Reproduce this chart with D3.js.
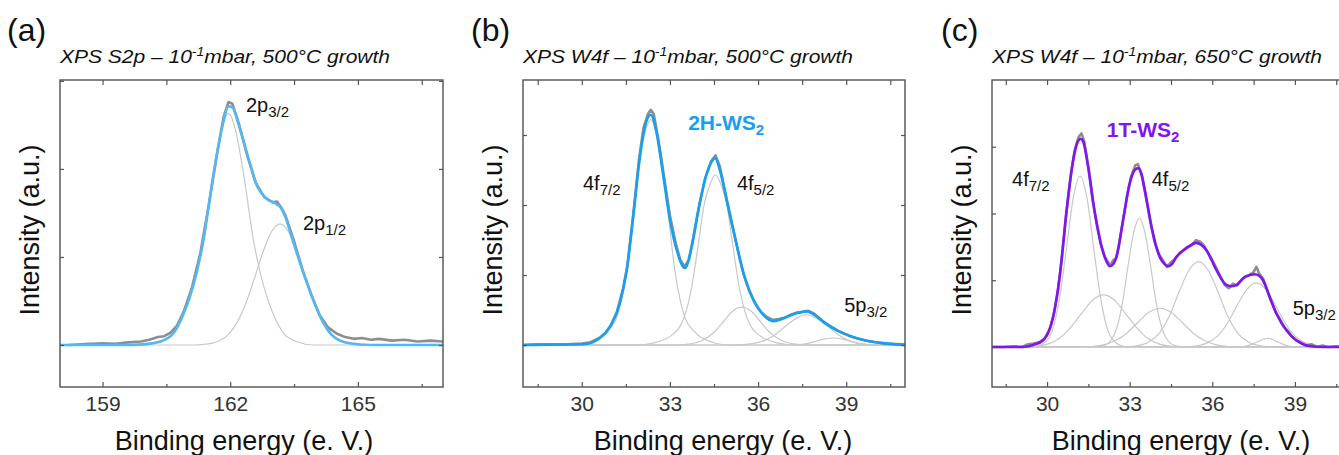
<!DOCTYPE html>
<html>
<head>
<meta charset="utf-8">
<script src="https://cdn.jsdelivr.net/npm/d3@7"></script>
<style>
  body { margin: 0; background: #fff; }
  svg { display: block; font-family: "Liberation Sans", Arial, sans-serif; }
</style>
</head>
<body>
<svg id="chart" width="1339" height="455"></svg>
<script>
// ---- data: [binding energy (eV), intensity (a.u.)] ----

// (a) S2p, 500°C
const s2pMeasured = [[158.2,0],[158.6,0.01],[159,0.02],[159.3,0.015],[159.6,0.03],[159.9,0.04],[160.1,0.06],[160.3,0.09],[160.45,0.1],[160.6,0.14],[160.75,0.22],[160.9,0.37],[161.1,0.65],[161.3,1.05],[161.5,1.6],[161.7,2.2],[161.85,2.6],[161.96,2.76],[162.05,2.74],[162.2,2.52],[162.4,2.15],[162.6,1.84],[162.8,1.68],[163,1.62],[163.1,1.63],[163.2,1.56],[163.3,1.47],[163.5,1.18],[163.7,0.85],[163.9,0.58],[164.1,0.34],[164.3,0.2],[164.5,0.13],[164.7,0.09],[164.9,0.07],[165.1,0.08],[165.3,0.06],[165.5,0.07],[165.8,0.05],[166.1,0.06],[166.4,0.04],[166.7,0.05],[167,0.04]];
const s2pEnvelope = [[158,0],[159.5,0],[160,0.01],[160.36,0.04],[160.66,0.13],[160.9,0.35],[161.13,0.67],[161.37,1.19],[161.6,1.92],[161.8,2.45],[161.96,2.71],[162.05,2.7],[162.2,2.5],[162.43,2.12],[162.62,1.82],[162.86,1.66],[163.09,1.6],[163.2,1.55],[163.29,1.46],[163.48,1.17],[163.72,0.82],[163.95,0.51],[164.19,0.25],[164.42,0.1],[164.8,0.02],[165.3,0],[167,0]];
const s2p32 = [[158,0],[159.96,0],[160.36,0.04],[160.66,0.13],[160.9,0.34],[161.13,0.66],[161.37,1.18],[161.6,1.92],[161.8,2.45],[161.96,2.63],[162.12,2.45],[162.32,1.92],[162.55,1.18],[162.79,0.66],[163.02,0.34],[163.26,0.13],[163.56,0.04],[163.96,0],[167,0]];
const s2p12 = [[158,0],[161.17,0],[161.47,0.012],[161.77,0.054],[161.97,0.127],[162.17,0.263],[162.37,0.477],[162.57,0.759],[162.77,1.056],[162.97,1.287],[163.17,1.375],[163.37,1.287],[163.57,1.056],[163.77,0.759],[163.97,0.477],[164.17,0.263],[164.37,0.127],[164.57,0.054],[164.87,0.012],[165.17,0],[167,0]];

// (b) W4f, 500°C
const w500Measured = [[28,0],[28.5,0.01],[29,0.005],[29.5,0.01],[30,0.02],[30.3,0.04],[30.6,0.1],[30.8,0.17],[31,0.29],[31.2,0.48],[31.4,0.8],[31.55,1.12],[31.75,1.86],[31.95,2.66],[32.1,3.1],[32.25,3.3],[32.35,3.36],[32.45,3.3],[32.6,2.95],[32.8,2.4],[33,1.85],[33.2,1.45],[33.35,1.22],[33.5,1.12],[33.65,1.22],[33.8,1.55],[34,2],[34.2,2.38],[34.4,2.62],[34.55,2.71],[34.7,2.55],[34.9,2.15],[35.1,1.75],[35.3,1.38],[35.5,1.02],[35.7,0.78],[35.9,0.6],[36.1,0.47],[36.3,0.4],[36.5,0.36],[36.7,0.37],[36.9,0.39],[37.1,0.43],[37.3,0.46],[37.5,0.47],[37.7,0.49],[37.9,0.45],[38.1,0.38],[38.3,0.31],[38.5,0.26],[38.7,0.21],[38.9,0.17],[39.1,0.13],[39.4,0.09],[39.7,0.06],[40,0.04],[40.4,0.02],[40.7,0.015],[41,0.01]];
const w500Envelope = [[28,0],[29,0.005],[30.05,0.01],[30.62,0.1],[30.96,0.26],[31.3,0.6],[31.53,1.07],[31.75,1.83],[31.98,2.69],[32.15,3.12],[32.35,3.29],[32.55,3.02],[32.78,2.4],[33,1.79],[33.23,1.36],[33.51,1.1],[33.74,1.4],[33.97,1.93],[34.19,2.36],[34.42,2.62],[34.54,2.67],[34.7,2.5],[34.93,2.07],[35.16,1.64],[35.39,1.21],[35.61,0.88],[35.84,0.64],[36.18,0.43],[36.52,0.34],[36.86,0.38],[37.2,0.44],[37.66,0.48],[37.88,0.44],[38.22,0.33],[38.68,0.21],[39.13,0.13],[39.7,0.06],[40.38,0.02],[41,0]];
const w500F72 = [[28,0],[29.75,0],[30.25,0.04],[30.65,0.11],[30.95,0.23],[31.15,0.35],[31.35,0.64],[31.53,1.06],[31.75,1.84],[31.98,2.7],[32.15,3.03],[32.35,3.22],[32.55,3.03],[32.72,2.7],[32.95,1.84],[33.17,1.06],[33.35,0.64],[33.55,0.35],[33.75,0.23],[34.05,0.11],[34.45,0.04],[34.95,0],[41,0]];
const w500F52 = [[28,0],[31.95,0],[32.45,0.03],[32.85,0.085],[33.15,0.17],[33.35,0.27],[33.55,0.48],[33.73,0.8],[33.95,1.39],[34.18,2.04],[34.35,2.28],[34.55,2.43],[34.75,2.28],[34.92,2.04],[35.15,1.39],[35.37,0.8],[35.55,0.48],[35.75,0.27],[35.95,0.17],[36.25,0.085],[36.65,0.03],[37.15,0],[41,0]];
const w500Ox = [[28,0],[33.15,0],[33.55,0.008],[33.95,0.04],[34.25,0.1],[34.55,0.2],[34.85,0.35],[35.15,0.49],[35.45,0.54],[35.75,0.49],[36.05,0.35],[36.35,0.2],[36.65,0.1],[36.95,0.04],[37.35,0.008],[37.75,0],[41,0]];
const w500P32 = [[28,0],[35.05,0],[35.45,0.005],[35.9,0.026],[36.25,0.07],[36.6,0.155],[36.95,0.275],[37.3,0.38],[37.65,0.43],[38,0.38],[38.35,0.275],[38.7,0.155],[39.05,0.07],[39.4,0.026],[39.85,0.005],[40.25,0],[41,0]];
const w500Small = [[28,0],[37.2,0],[37.6,0.017],[37.9,0.045],[38.2,0.08],[38.55,0.1],[38.9,0.08],[39.2,0.045],[39.5,0.017],[39.9,0],[41,0]];

// (c) W4f, 650°C
const w650Measured = [[28,0],[28.4,0],[28.8,0.01],[29.1,0],[29.3,0.04],[29.5,0.05],[29.7,0.07],[29.9,0.12],[30.1,0.27],[30.25,0.5],[30.4,0.85],[30.55,1.38],[30.7,2],[30.85,2.55],[31,2.95],[31.15,3.15],[31.25,3.2],[31.35,3.08],[31.5,2.7],[31.65,2.2],[31.8,1.85],[31.95,1.55],[32.1,1.35],[32.2,1.28],[32.3,1.22],[32.4,1.3],[32.5,1.33],[32.6,1.5],[32.75,1.88],[32.9,2.25],[33.05,2.55],[33.2,2.72],[33.3,2.74],[33.45,2.55],[33.6,2.22],[33.75,1.9],[33.9,1.58],[34.05,1.4],[34.2,1.3],[34.35,1.2],[34.5,1.27],[34.65,1.32],[34.8,1.4],[34.95,1.45],[35.1,1.5],[35.25,1.52],[35.4,1.6],[35.55,1.58],[35.7,1.52],[35.85,1.4],[36,1.3],[36.15,1.18],[36.3,1.05],[36.45,0.93],[36.6,0.88],[36.75,0.95],[36.9,0.92],[37.05,1],[37.2,1.05],[37.35,1.08],[37.5,1.12],[37.6,1.2],[37.7,1.1],[37.85,1.02],[38,0.85],[38.15,0.68],[38.3,0.52],[38.45,0.42],[38.6,0.3],[38.75,0.24],[38.9,0.15],[39.05,0.1],[39.2,0.07],[39.4,0.02],[39.6,0.04],[39.8,0],[40,0.02],[40.2,0],[40.5,0.01],[40.8,0],[41,0.01]];
const w650Envelope = [[28,0],[29.1,0],[29.5,0.03],[29.86,0.1],[30.05,0.22],[30.22,0.45],[30.47,1.1],[30.71,2.05],[30.95,2.8],[31.12,3.08],[31.22,3.12],[31.31,3.08],[31.49,2.7],[31.74,2],[31.98,1.5],[32.15,1.29],[32.28,1.21],[32.4,1.24],[32.52,1.35],[32.76,1.9],[33,2.45],[33.2,2.66],[33.31,2.68],[33.42,2.6],[33.55,2.35],[33.79,1.8],[34.09,1.35],[34.25,1.25],[34.4,1.21],[34.55,1.25],[34.7,1.35],[35.06,1.48],[35.42,1.56],[35.6,1.53],[35.79,1.45],[36.15,1.15],[36.51,0.93],[36.7,0.91],[36.88,0.93],[37.18,1.05],[37.54,1.09],[37.7,1.07],[37.84,1],[38.08,0.75],[38.33,0.5],[38.69,0.25],[39.05,0.1],[39.3,0.04],[39.53,0.015],[40,0],[41,0]];
const w650F72 = [[28,0],[29.5,0],[29.9,0.064],[30.2,0.256],[30.45,0.72],[30.7,1.46],[30.95,2.23],[31.2,2.56],[31.45,2.23],[31.7,1.46],[31.95,0.72],[32.2,0.256],[32.5,0.064],[32.9,0],[41,0]];
const w650F72b = [[28,0],[29.05,0],[29.55,0.01],[30.05,0.047],[30.45,0.13],[30.85,0.29],[31.25,0.5],[31.65,0.7],[32.05,0.78],[32.45,0.7],[32.85,0.5],[33.25,0.29],[33.65,0.13],[34.05,0.047],[34.55,0.01],[35.05,0],[41,0]];
const w650F52 = [[28,0],[31.75,0],[32.05,0.02],[32.35,0.116],[32.55,0.31],[32.75,0.69],[32.95,1.24],[33.15,1.72],[33.35,1.93],[33.55,1.72],[33.75,1.24],[33.95,0.69],[34.15,0.31],[34.35,0.116],[34.65,0.02],[34.95,0],[41,0]];
const w650F52b = [[28,0],[31.1,0],[31.6,0.007],[32.1,0.035],[32.5,0.1],[32.9,0.21],[33.3,0.37],[33.7,0.52],[34.1,0.58],[34.5,0.52],[34.9,0.37],[35.3,0.21],[35.7,0.1],[36.1,0.035],[36.6,0.007],[37.1,0],[41,0]];
const w650Ox = [[28,0],[32.7,0],[33.2,0.013],[33.7,0.077],[34.1,0.22],[34.45,0.47],[34.8,0.83],[35.15,1.15],[35.5,1.28],[35.85,1.15],[36.2,0.83],[36.55,0.47],[36.9,0.22],[37.3,0.077],[37.8,0.013],[38.3,0],[41,0]];
const w650P32 = [[28,0],[34.8,0],[35.3,0.01],[35.8,0.058],[36.2,0.165],[36.55,0.355],[36.9,0.62],[37.25,0.86],[37.6,0.96],[37.95,0.86],[38.3,0.62],[38.65,0.355],[39,0.165],[39.4,0.058],[39.9,0.01],[40.4,0],[41,0]];
const w650Small = [[28,0],[37,0],[37.3,0.02],[37.6,0.07],[38,0.13],[38.4,0.07],[38.7,0.02],[39,0],[41,0]];

// axis ticks
const s2pMajor = [159, 162, 165];
const s2pMinor = [160.5, 163.5, 166.5];
const w4fMajor = [30, 33, 36, 39];
const w4fMinor = [28.5, 31.5, 34.5, 37.5, 40.5];
const yTicks = [0, 1, 2, 3];

// ---- layout ----
const TOP = 80, BOTTOM = 387;
const panels = [
  {
    letter: "(a)", letterX: 7, title: ["XPS S2p \u2013 10", "-1", "mbar, 500\u00b0C growth"],
    left: 60, right: 443, xDomain: [158, 167], yDomain: [-0.477, 3.01],
    major: s2pMajor, minor: s2pMinor, color: "#55b7f2",
    measured: s2pMeasured, envelope: s2pEnvelope, comps: [s2p32, s2p12],
    xLabelX: 244,
    labels: [
      { e: 162.37, v: 2.65, main: "2p", sub: "3/2" },
      { e: 163.71, v: 1.31, main: "2p", sub: "1/2" }
    ]
  },
  {
    letter: "(b)", letterX: 471, title: ["XPS W4f \u2013 10", "-1", "mbar, 500\u00b0C growth"],
    left: 523, right: 905, xDomain: [28, 41], yDomain: [-0.6, 3.786],
    major: w4fMajor, minor: w4fMinor, color: "#18a0f0",
    measured: w500Measured, envelope: w500Envelope,
    comps: [w500F72, w500F52, w500Ox, w500P32, w500Small],
    xLabelX: 723,
    labels: [
      { e: 30.04, v: 2.21, main: "4f", sub: "7/2" },
      { e: 35.28, v: 2.21, main: "4f", sub: "5/2" },
      { e: 38.93, v: 0.47, main: "5p", sub: "3/2" },
      { e: 33.62, v: 3.07, main: "2H-WS", sub: "2", bold: true }
    ]
  },
  {
    letter: "(c)", letterX: 941, title: ["XPS W4f \u2013 10", "-1", "mbar, 650\u00b0C growth"],
    left: 992, right: 1350, xDomain: [28, 41], yDomain: [-0.6, 4.0],
    major: w4fMajor, minor: w4fMinor, color: "#8114f0",
    measured: w650Measured, envelope: w650Envelope,
    comps: [w650F72, w650F72b, w650F52, w650F52b, w650Ox, w650P32, w650Small],
    xLabelX: 1181,
    labels: [
      { e: 28.73, v: 2.41, main: "4f", sub: "7/2" },
      { e: 33.8, v: 2.41, main: "4f", sub: "5/2" },
      { e: 38.92, v: 0.48, main: "5p", sub: "3/2" },
      { e: 32.17, v: 3.15, main: "1T-WS", sub: "2", bold: true }
    ]
  }
];

const svg = d3.select("#chart");

panels.forEach((p, i) => drawPanel(p, i));

function drawPanel(p, i) {
  const x = d3.scaleLinear().domain(p.xDomain).range([p.left, p.right]);
  const y = d3.scaleLinear().domain(p.yDomain).range([BOTTOM, TOP]);
  const g = svg.append("g");

  g.append("clipPath").attr("id", "clip" + i)
    .append("rect")
    .attr("x", p.left).attr("y", TOP)
    .attr("width", p.right - p.left).attr("height", BOTTOM - TOP);

  const smooth = d3.line().x(d => x(d[0])).y(d => y(d[1])).curve(d3.curveMonotoneX);
  const raw = d3.line().x(d => x(d[0])).y(d => y(d[1]));

  const plot = g.append("g").attr("clip-path", `url(#clip${i})`);

  plot.selectAll(".comp")
    .data(p.comps)
    .join("path")
    .attr("class", "comp")
    .attr("d", smooth)
    .attr("fill", "none")
    .attr("stroke", "#c8c8c8")
    .attr("stroke-width", 1.2);

  plot.append("path")
    .attr("d", raw(p.measured))
    .attr("fill", "none")
    .attr("stroke", "#8e8e8e")
    .attr("stroke-width", 2.6)
    .attr("stroke-linejoin", "round");

  plot.append("path")
    .attr("d", smooth(p.envelope))
    .attr("fill", "none")
    .attr("stroke", p.color)
    .attr("stroke-width", 2.6)
    .attr("stroke-linejoin", "round");

  // ticks pointing inward on all four sides
  const addAxis = (axis, transform) => {
    const a = g.append("g").attr("transform", transform).call(axis);
    a.select(".domain").remove();
    a.selectAll(".tick line").attr("stroke", "#555").attr("stroke-width", 1.2);
    return a;
  };
  const bottomMajor = addAxis(
    d3.axisBottom(x).tickValues(p.major).tickSize(-5).tickPadding(9).tickFormat(d3.format("d")),
    `translate(0,${BOTTOM})`);
  bottomMajor.selectAll("text")
    .attr("font-size", 21).attr("fill", "#333")
    .attr("font-family", "Liberation Sans, Arial, sans-serif");
  addAxis(d3.axisBottom(x).tickValues(p.minor).tickSize(-3).tickFormat(""), `translate(0,${BOTTOM})`);
  addAxis(d3.axisTop(x).tickValues(p.major).tickSize(-5).tickFormat(""), `translate(0,${TOP})`);
  addAxis(d3.axisTop(x).tickValues(p.minor).tickSize(-5).tickFormat(""), `translate(0,${TOP})`);
  addAxis(d3.axisLeft(y).tickValues(yTicks).tickSize(-4).tickFormat(""), `translate(${p.left},0)`);
  addAxis(d3.axisRight(y).tickValues(yTicks).tickSize(-4).tickFormat(""), `translate(${p.right},0)`);

  g.append("rect")
    .attr("x", p.left).attr("y", TOP)
    .attr("width", p.right - p.left).attr("height", BOTTOM - TOP)
    .attr("fill", "none").attr("stroke", "#505050").attr("stroke-width", 1.4);

  // panel letter and title
  g.append("text").attr("x", p.letterX).attr("y", 41)
    .attr("font-size", 32).attr("fill", "#111").text(p.letter);

  const t = g.append("text").attr("x", p.left).attr("y", 63)
    .attr("font-size", 18).attr("font-style", "italic").attr("fill", "#111")
    .attr("textLength", 330).attr("lengthAdjust", "spacingAndGlyphs");
  t.append("tspan").text(p.title[0]);
  t.append("tspan").attr("dy", -7).attr("font-size", 12).text(p.title[1]);
  t.append("tspan").attr("dy", 7).text(p.title[2]);

  // axis titles
  g.append("text").attr("x", p.xLabelX).attr("y", 450)
    .attr("text-anchor", "middle").attr("font-size", 27).attr("fill", "#111")
    .text("Binding energy (e. V.)");
  g.append("text")
    .attr("transform", `translate(${p.left - 21},230) rotate(-90)`)
    .attr("text-anchor", "middle").attr("font-size", 27).attr("fill", "#111")
    .text("Intensity (a.u.)");

  // peak labels
  p.labels.forEach(l => {
    const lt = g.append("text")
      .attr("x", x(l.e)).attr("y", y(l.v))
      .attr("font-size", l.bold ? 21 : 20)
      .attr("font-weight", l.bold ? "bold" : "normal")
      .attr("fill", l.bold ? p.color : "#111");
    lt.append("tspan").text(l.main);
    lt.append("tspan").attr("dy", 5).attr("font-size", l.bold ? 15 : 15).text(l.sub);
  });
}
</script>
</body>
</html>
